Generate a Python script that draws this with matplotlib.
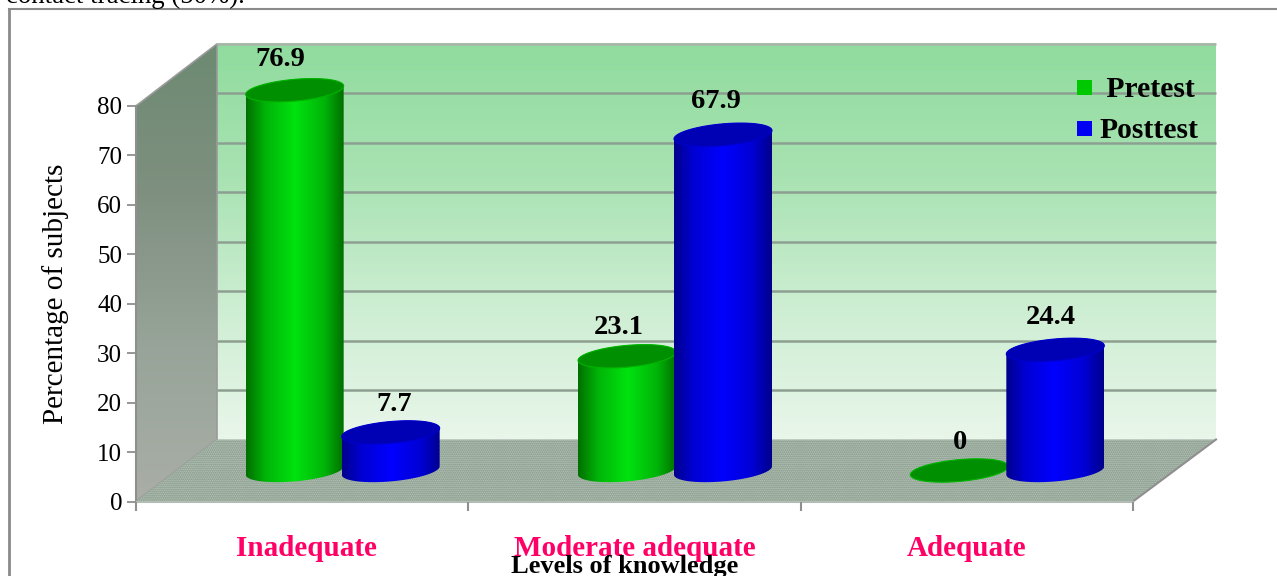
import numpy as np
import matplotlib
matplotlib.use("Agg")
import matplotlib.pyplot as plt
from matplotlib.colors import LinearSegmentedColormap
from matplotlib.lines import Line2D
from matplotlib.patches import Polygon
from matplotlib.transforms import ScaledTranslation

# ---- data ----
categories = ["Inadequate", "Moderate adequate", "Adequate"]
series_names = ["Pretest", "Posttest"]
pretest = [76.9, 23.1, 0]
posttest = [7.7, 67.9, 24.4]
y_ticks = [0, 10, 20, 30, 40, 50, 60, 70, 80]

# ---- geometry / style ----
W, H = 1277, 576
X0_PX, PX_PER_CAT = 136, 332.33
Y0_PX, PX_PER_VAL = 501.5, 4.945
DX = 81 / PX_PER_CAT        # depth of the 3D box in x units
DY = 62 / PX_PER_VAL        # depth of the 3D box in y units
WALL_EXTRA = 2 / PX_PER_CAT
BAR_A = 49 / PX_PER_CAT     # cylinder x radius
BAR_B = 10.9 / PX_PER_VAL   # cylinder y radius
BAR_S = 4.2 / PX_PER_VAL    # tilt of the ellipses
BAR_SHIFT = 48 / PX_PER_CAT
pre_offsets = [(-14, 31), (-8, 29), (1, 28)]
post_offsets = [(4, 28), (-7, 33), (-5, 32)]

plt.rcParams["font.family"] = ["Liberation Serif", "DejaVu Serif"]
plt.rcParams["hatch.linewidth"] = 0.9

fig = plt.figure(figsize=(W / 100, H / 100), dpi=100, facecolor="white")
ax = fig.add_axes([0, 0, 1, 1])
ax.patch.set_visible(False)
ax.set_axisbelow(False)


def vgrad(colors, extent, clip, z):
    cmap = LinearSegmentedColormap.from_list("v", colors)
    g = np.linspace(0, 1, 256)[:, None]
    im = ax.imshow(g, cmap=cmap, extent=extent, aspect="auto", origin="upper",
                   zorder=z, interpolation="bilinear")
    if clip is not None:
        im.set_clip_path(clip)
    return im


# back wall
vgrad(["#90dc9e", "#a8e2b2", "#cdeed2", "#e9f6ea"],
      [DX, 3 + DX + WALL_EXTRA, DY, 80 + DY], None, 0.2)
# side wall
side = Polygon([(0, 0), (DX, DY), (DX, 80 + DY), (0, 80)], closed=True,
               facecolor="none", edgecolor="#9a9a9a", linewidth=1.2, zorder=0.35)
ax.add_patch(side)
vgrad(["#6d8a72", "#7f9080", "#98a499", "#a9aea6"], [0, DX, 0, 80 + DY], side, 0.3)
# floor
floor = Polygon([(0, 0), (DX, DY), (3 + DX + WALL_EXTRA, DY), (3, 0)], closed=True,
                facecolor="#b3c5b7", edgecolor="#7f8f82", hatch="........",
                linewidth=0, zorder=0.4)
ax.add_patch(floor)
ax.plot([3, 3 + DX + WALL_EXTRA], [0, DY], color="#8f8f8f", lw=1.5, zorder=0.45)
# grid on the back wall
for v in y_ticks[1:]:
    ax.plot([DX, 3 + DX + WALL_EXTRA], [v + DY, v + DY],
            color="#8d9f91" if v < 80 else "#a9b5ab",
            lw=1.8, zorder=0.5, solid_capstyle="butt")


def ellipse_pts(cx, cy, t):
    return np.column_stack([cx + BAR_A * np.cos(t),
                            cy + BAR_B * np.sin(t) + BAR_S * np.cos(t)])


def cylinder(cx, value, stops, top, rim, z):
    base = DY / 2
    if value > 0:
        tb = np.linspace(np.pi, 2 * np.pi, 80)
        tt = np.linspace(0, np.pi, 80)
        pts = np.vstack([ellipse_pts(cx, base, tb), ellipse_pts(cx, base + value, tt)])
        body = Polygon(pts, closed=True, facecolor="none", edgecolor="none", zorder=z)
        ax.add_patch(body)
        cmap = LinearSegmentedColormap.from_list(
            "h", list(zip([0, 0.2, 0.5, 0.8, 1], stops)))
        g = np.linspace(0, 1, 256)[None, :]
        im = ax.imshow(g, cmap=cmap, aspect="auto", zorder=z,
                       extent=[cx - BAR_A, cx + BAR_A, base - 5, base + value + 5])
        im.set_clip_path(body)
    t = np.linspace(0, 2 * np.pi, 160)
    ax.add_patch(Polygon(ellipse_pts(cx, base + value, t), closed=True, facecolor=top,
                         edgecolor=rim, linewidth=0.8, zorder=z + 0.01))


green_stops = ["#006f00", "#00b408", "#00e30f", "#00b408", "#006f00"]
blue_stops = ["#00008c", "#0000d4", "#0000ff", "#0000d4", "#00008c"]
for i in range(len(categories)):
    c = i + 0.5 + DX / 2
    cylinder(c - BAR_SHIFT, pretest[i], green_stops, "#008f00", "#00b400", 1 + i)
    cylinder(c + BAR_SHIFT, posttest[i], blue_stops, "#0000b4", "#0000cc", 1.5 + i)
    for val, off, sign in ((pretest[i], pre_offsets[i], -1), (posttest[i], post_offsets[i], 1)):
        ax.annotate(f"{val:g}", xy=(c + sign * BAR_SHIFT, DY / 2 + val),
                    xytext=(off[0] * 0.72, off[1] * 0.72), textcoords="offset points",
                    ha="center", va="center", fontsize=20.5, fontweight="bold",
                    color="black", zorder=6)

# axes
for s in ("top", "right"):
    ax.spines[s].set_visible(False)
ax.spines["left"].set_position(("data", 0))
ax.spines["left"].set_bounds(0, 80)
ax.spines["bottom"].set_position(("data", 0))
ax.spines["bottom"].set_bounds(0, 3)
ax.spines["left"].set_color("#8f8f8f")
ax.spines["left"].set_linewidth(1.5)
ax.spines["bottom"].set_color("#b4bdb5")
ax.spines["bottom"].set_linewidth(1.5)
ax.set_yticks(y_ticks)
ax.tick_params(axis="y", length=6.5, width=1.3, color="#8f8f8f", labelsize=18, pad=3.5)
ax.set_xticks(range(len(categories) + 1))
ax.set_xticklabels([])
ax.set_xticks(np.arange(len(categories)) + 0.5, minor=True)
ax.set_xticklabels(categories, minor=True, fontsize=21, fontweight="bold", color="#ff0066")
ax.tick_params(axis="x", which="major", length=6.5, width=1.5, color="#8f8f8f")
ax.tick_params(axis="x", which="minor", length=0, pad=24)
first = ax.get_xticklabels(minor=True)[0]
first.set_transform(first.get_transform() + ScaledTranslation(4 / 100, 0, fig.dpi_scale_trans))
ax.set_ylabel("Percentage of subjects", fontsize=21)
ax.yaxis.set_label_coords(56 / W, 1 - 294 / H, transform=ax.transAxes)
ax.yaxis.label.set_va("center")
fig.text(625 / W, 1 - 566 / H, "Levels of knowledge", fontsize=19, fontweight="bold",
         ha="center", va="center", zorder=7)

# limits so that one pixel maps onto the 3D box
ax.set_xlim(-X0_PX / PX_PER_CAT, (W - X0_PX) / PX_PER_CAT)
ax.set_ylim((Y0_PX - H) / PX_PER_VAL, Y0_PX / PX_PER_VAL)

# legend
handles = [Line2D([], [], ls="none", marker="s", ms=10.8, color="#00c800", mew=0),
           Line2D([], [], ls="none", marker="s", ms=10.8, color="#0000f5", mew=0)]
ax.legend(handles, [" " + series_names[0], series_names[1]], loc="upper left",
          bbox_to_anchor=(1074 / W, 1 - 76 / H), bbox_transform=ax.transAxes,
          frameon=False, prop={"size": 21.3, "weight": "bold"}, handlelength=0.7,
          handletextpad=0.15, labelspacing=0.49, borderpad=0, borderaxespad=0)

# page elements: frame of the picture and the clipped line of text above it
fig.add_artist(Line2D([9 / W, 9 / W], [0, 1 - 9 / H], color="#8a8a8a", lw=2))
fig.add_artist(Line2D([9 / W, 1], [1 - 9 / H, 1 - 9 / H], color="#8a8a8a", lw=1.5))
fig.text(6 / W, 1 - 3 / H, "contact tracing (50%).", fontsize=19.4, ha="left",
         va="baseline", color="black")

fig.savefig("out.png", dpi=100)
